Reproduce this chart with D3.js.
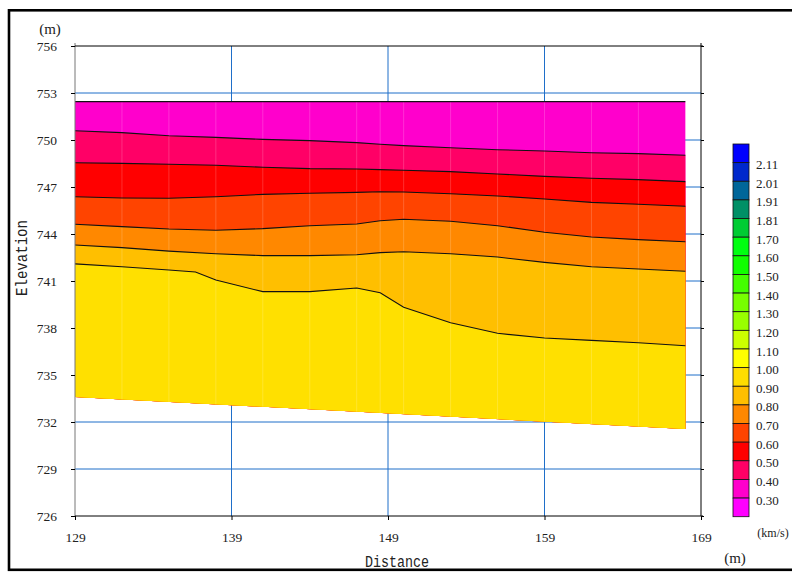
<!DOCTYPE html>
<html>
<head>
<meta charset="utf-8">
<script src="https://cdn.jsdelivr.net/npm/d3@7"></script>
<style>
  body { margin: 0; background: #fff; }
  svg { display: block; }
</style>
</head>
<body>
<div id="chart"></div>
<script>
// distance nodes of the section (m)
let nodeDist = [129, 132, 135, 138, 141, 144, 147, 148.5, 150, 153, 156, 159, 162, 165, 168]
// boundary 0.90 / 1.00 has two extra bends
let nodeDist7 = [129, 132, 135, 136.7, 138, 141, 144, 147, 148.5, 150, 153, 156, 159, 162, 165, 168]

// layer boundaries, elevation (m), top to bottom
let topElev = [752.45, 752.45]
let b040 = [750.59, 750.47, 750.27, 750.17, 750.04, 749.96, 749.83, 749.73, 749.64, 749.51, 749.38, 749.30, 749.19, 749.13, 749.03]
let b050 = [748.55, 748.51, 748.45, 748.39, 748.26, 748.17, 748.15, 748.11, 748.07, 747.98, 747.83, 747.68, 747.56, 747.47, 747.34]
let b060 = [746.38, 746.30, 746.28, 746.38, 746.53, 746.60, 746.66, 746.70, 746.68, 746.57, 746.43, 746.23, 746.02, 745.90, 745.77]
let b070 = [744.62, 744.47, 744.32, 744.24, 744.34, 744.53, 744.64, 744.85, 744.94, 744.81, 744.53, 744.11, 743.81, 743.64, 743.51]
let b080 = [743.30, 743.13, 742.91, 742.74, 742.62, 742.62, 742.68, 742.81, 742.87, 742.74, 742.53, 742.19, 741.91, 741.77, 741.62]
let b090 = [742.09, 741.91, 741.70, 741.57, 741.06, 740.32, 740.32, 740.55, 740.25, 739.32, 738.34, 737.66, 737.36, 737.21, 737.06, 736.87]
let bottomElev = [733.6, 731.55]

let layerColors = ['#ff00cc', '#ff0066', '#ff0000', '#ff4400', '#ff8800', '#ffbf00', '#ffe000']

// legend
let legendColors = ['#0000ff', '#0028cc', '#006699', '#009066', '#00cc33', '#00ff11', '#11ff00', '#44ff00',
  '#77ff00', '#99ff00', '#ccff00', '#ffff00', '#ffdd00', '#ffbf00', '#ff8800', '#ff4400',
  '#ff0000', '#ff0066', '#ff00cc', '#ff00ff']
let legendLabels = ['2.11', '2.01', '1.91', '1.81', '1.70', '1.60', '1.50', '1.40', '1.30', '1.20',
  '1.10', '1.00', '0.90', '0.80', '0.70', '0.60', '0.50', '0.40', '0.30']

let xTicks = [129, 139, 149, 159, 169]
let yTicks = [726, 729, 732, 735, 738, 741, 744, 747, 750, 753, 756]

let serif = "'Liberation Serif', 'DejaVu Serif', serif"
let mono = "'Liberation Mono', 'DejaVu Sans Mono', monospace"

let svg = d3.select('#chart')
  .append('svg')
  .attr('width', 792)
  .attr('height', 572)

let plotLeft = 75
let plotTop = 46
let plotW = 626
let plotH = 470

let x = d3.scaleLinear().domain([129, 169]).range([plotLeft, plotLeft + plotW])
let y = d3.scaleLinear().domain([726, 756]).range([plotTop + plotH, plotTop])

// grid
svg.append('g').selectAll('line')
  .data([139, 149, 159])
  .enter().append('line')
  .attr('x1', d => x(d)).attr('x2', d => x(d))
  .attr('y1', y(756)).attr('y2', y(726))
  .attr('stroke', '#1f6fc9').attr('stroke-width', 1)
svg.append('g').selectAll('line')
  .data(yTicks.filter(d => d > 726 && d < 756))
  .enter().append('line')
  .attr('x1', x(129)).attr('x2', x(169))
  .attr('y1', d => y(d)).attr('y2', d => y(d))
  .attr('stroke', '#1f6fc9').attr('stroke-width', 1)

// build boundaries as point lists
function pts (dist, elev) {
  return dist.map((d, i) => [d, elev[i]])
}
let bottomPts = pts([129, 168], bottomElev)
let bounds = [
  pts([129, 168], topElev),
  pts(nodeDist, b040),
  pts(nodeDist, b050),
  pts(nodeDist, b060),
  pts(nodeDist, b070),
  pts(nodeDist, b080),
  pts(nodeDist7, b090)
]

let line = d3.line().x(d => x(d[0])).y(d => y(d[1]))

// layers: each one fills from its upper boundary down to the bottom
bounds.forEach(function (b, i) {
  let poly = b.concat(bottomPts.slice().reverse())
  svg.append('path')
    .attr('d', line(poly) + 'Z')
    .attr('fill', layerColors[i])
})

// faint cell edges inside the section
svg.append('clipPath').attr('id', 'sec')
  .append('path')
  .attr('d', line(bounds[0].concat(bottomPts.slice().reverse())) + 'Z')
svg.append('g').attr('clip-path', 'url(#sec)')
  .selectAll('line')
  .data(nodeDist.slice(1, -1))
  .enter().append('line')
  .attr('x1', d => x(d)).attr('x2', d => x(d))
  .attr('y1', y(753)).attr('y2', y(730))
  .attr('stroke', '#fff').attr('stroke-opacity', 0.18)

// boundary lines
svg.append('g').selectAll('path')
  .data(bounds)
  .enter().append('path')
  .attr('d', d => line(d))
  .attr('fill', 'none')
  .attr('stroke', '#111')
  .attr('stroke-width', 1.1)

// axes
function styleAxis (g) {
  g.selectAll('text').attr('font-family', serif).attr('font-size', 13.5).attr('fill', '#222')
}
svg.append('g')
  .attr('transform', 'translate(' + plotLeft + ',0)')
  .call(d3.axisLeft(y).tickValues(yTicks).tickFormat(d3.format('d')).tickSize(4).tickPadding(14))
  .call(styleAxis)
  .call(g => g.select('.domain').attr('stroke', '#777').attr('d', 'M0,' + (plotTop - 3) + 'V' + (plotTop + plotH)))
svg.append('g')
  .attr('transform', 'translate(0,' + (plotTop + plotH) + ')')
  .call(d3.axisBottom(x).tickValues(xTicks).tickFormat(d3.format('d')).tickSize(4).tickPadding(12))
  .call(styleAxis)
  .call(g => g.select('.domain').attr('d', 'M' + plotLeft + ',0H' + (plotLeft + plotW + 2)))
svg.append('g')
  .attr('transform', 'translate(' + (plotLeft + plotW) + ',0)')
  .call(d3.axisRight(y).tickValues(yTicks).tickFormat('').tickSize(3))
  .call(g => g.select('.domain').attr('d', 'M0,' + (plotTop - 3) + 'V' + (plotTop + plotH)))
svg.append('line')
  .attr('x1', plotLeft).attr('x2', plotLeft + plotW + 2)
  .attr('y1', y(756)).attr('y2', y(756))
  .attr('stroke', '#000')

// legend
let ly = d3.scaleBand().domain(d3.range(legendColors.length)).range([144, 516.7])
svg.append('g').selectAll('rect')
  .data(legendColors)
  .enter().append('rect')
  .attr('x', 733).attr('width', 16)
  .attr('y', (d, i) => ly(i)).attr('height', ly.bandwidth())
  .attr('fill', d => d)
  .attr('stroke', '#111').attr('stroke-width', 0.8)
svg.append('g').selectAll('text')
  .data(legendLabels)
  .enter().append('text')
  .attr('x', 756)
  .attr('y', (d, i) => ly(i + 1) + 2)
  .attr('dy', '0.35em')
  .attr('font-family', serif).attr('font-size', 13).attr('fill', '#222')
  .text(d => d)

// unit and axis labels
svg.append('text').attr('x', 50).attr('y', 34).attr('text-anchor', 'middle')
  .attr('font-family', serif).attr('font-size', 15).attr('fill', '#222').text('(m)')
svg.append('text').attr('x', 735).attr('y', 563).attr('text-anchor', 'middle')
  .attr('font-family', serif).attr('font-size', 15).attr('fill', '#222').text('(m)')
svg.append('text').attr('x', 773).attr('y', 537).attr('text-anchor', 'middle')
  .attr('font-family', serif).attr('font-size', 12).attr('fill', '#222').text('(km/s)')
svg.append('text').attr('x', 365).attr('y', 567)
  .attr('textLength', 64).attr('lengthAdjust', 'spacingAndGlyphs')
  .attr('font-family', mono).attr('font-size', 16).attr('fill', '#222').text('Distance')
svg.append('text')
  .attr('transform', 'translate(27,258) rotate(-90)')
  .attr('text-anchor', 'middle')
  .attr('textLength', 76).attr('lengthAdjust', 'spacingAndGlyphs')
  .attr('font-family', mono).attr('font-size', 16).attr('fill', '#222').text('Elevation')

// frame
svg.append('rect')
  .attr('x', 9).attr('y', 10.3).attr('width', 800).attr('height', 559.5)
  .attr('fill', 'none').attr('stroke', '#000').attr('stroke-width', 2.6)
</script>
</body>
</html>
